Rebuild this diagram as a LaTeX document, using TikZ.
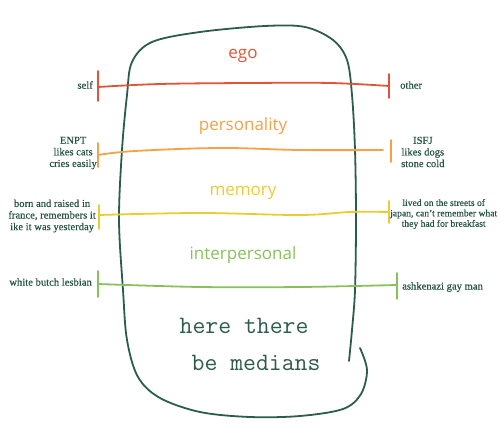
\documentclass[tikz,border=0pt]{standalone}
\usepackage{fontspec}
\setmainfont{Liberation Serif}
\newfontfamily\sidefont{Liberation Serif}[FakeBold=0.35]
\newfontfamily\dimfont{Open Sans}
\usetikzlibrary{positioning}
\definecolor{inkline}{RGB}{44,92,74}
\definecolor{sidetext}{RGB}{36,82,68}
\definecolor{egoline}{RGB}{226,84,56}
\definecolor{perline}{RGB}{246,160,72}
\definecolor{memline}{RGB}{234,204,50}
\definecolor{intline}{RGB}{138,192,92}

\begin{document}
\begin{tikzpicture}[x=1pt, y=-1pt,
  axis/.style={line width=1.8pt, line cap=round},
  tick/.style={line width=1.8pt, line cap=round},
  dim/.style={font=\dimfont\fontsize{17}{19}\selectfont, inner sep=0pt},
  side/.style={font=\sidefont\fontsize{10.6}{11.6}\selectfont, text=sidetext, align=center, inner sep=0pt},
  scrawl/.style={font=\ttfamily\fontsize{25}{27}\selectfont, text=inkline, inner sep=0pt}]
\useasboundingbox (0,0) rectangle (500,427);

% the outline round the middle
\draw[inkline, line width=1.8pt, line cap=round] plot[smooth, tension=0.55] coordinates {
  (360,348) (367,370) (361,394) (343,409) (300,416) (250,417) (200,412)
  (160,398) (138,377) (127,340) (123,290) (119,220) (122,150) (127,95)
  (132,62) (152,42) (200,32) (265,26) (305,27) (333,40) (347,60) (352,95)
  (355,150) (356,220) (355,290) (352,330) (349,361)};

% ends of each scale
\coordinate (egoL) at (98,87);
\coordinate (egoR) at (389,86);
\coordinate (perL) at (98,155);
\coordinate (perE) at (383,150);
\coordinate (perR) at (391,151);
\coordinate (memL) at (99,215);
\coordinate (memR) at (389,212);
\coordinate (intL) at (98,284);
\coordinate (intR) at (397,285);

\draw[axis, egoline] plot[smooth, tension=0.6] coordinates {(egoL) (160,84) (250,83) (330,83) (egoR)};
\draw[tick, egoline] ([yshift=16pt]egoL) -- ([yshift=-14pt]egoL);
\draw[tick, egoline] ([yshift=12pt]egoR) -- ([yshift=-12pt]egoR);

\draw[axis, perline] plot[smooth, tension=0.6] coordinates {(perL) (135,151) (220,148) (300,150) (perE)};
\draw[tick, perline] ([yshift=12pt]perL) -- ([yshift=-12pt]perL);
\draw[tick, perline] ([yshift=11pt]perR) -- ([yshift=-11pt]perR);

\draw[axis, memline] plot[smooth, tension=0.6] coordinates {(memL) (200,213) (300,215) (350,212) (memR)};
\draw[tick, memline] ([yshift=10pt]memL) -- ([yshift=-14pt]memL);
\draw[tick, memline] ([yshift=11pt]memR) -- ([yshift=-11pt]memR);

\draw[axis, intline] plot[smooth, tension=0.6] coordinates {(intL) (200,287) (300,287) (intR)};
\draw[tick, intline] ([yshift=13pt]intL) -- ([yshift=-13pt]intL);
\draw[tick, intline] ([yshift=12pt]intR) -- ([yshift=-14pt]intR);

% names of the scales
\node[dim, text=egoline] (ego) at (243,56) {ego};
\node[dim, text=perline] (per) at (243,126) {personality};
\node[dim, text=memline] (mem) at (243,193) {memory};
\node[dim, text=intline] (int) at (243,255) {interpersonal};

% the two ends
\node[side, anchor=east] (self) at (93,85) {self};
\node[side, anchor=west] (other) at (400,85) {other};
\node[side, anchor=east] (enpt) at (97,153) {ENPT\\likes cats\\cries easily};
\node[side, anchor=west] (isfj) at (401,152) {ISFJ\\likes dogs\\stone cold};
\node[side, anchor=east] (born) at (96,216) {born and raised in\\france, remembers it\\ike it was yesterday};
\node[side, anchor=west, font=\sidefont\fontsize{9.6}{10.4}\selectfont] (lived) at (390,214) {lived on the streets of\\japan, can’t remember what\\they had for breakfast};
\node[side, anchor=east] (butch) at (92,282) {white butch lesbian};
\node[side, anchor=west] (gay) at (402,287) {ashkenazi gay man};

\node[scrawl] (here) at (244,326) {here there};
\node[scrawl] (medians) at (256,363) {be medians};
\end{tikzpicture}
\end{document}
